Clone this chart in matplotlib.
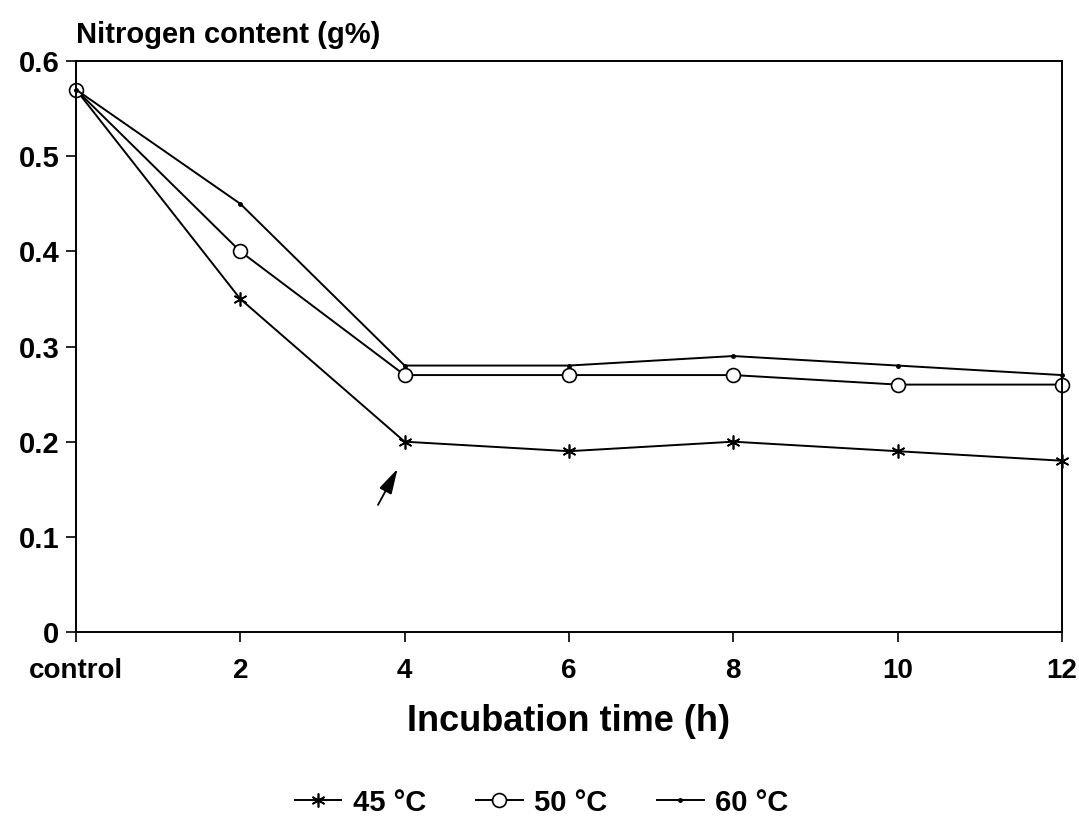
# Nitrogen content vs incubation time
import matplotlib.pyplot as plt

hours = [0, 2, 4, 6, 8, 10, 12]
tick_labels = ['control', '2', '4', '6', '8', '10', '12']

n_45 = [0.57, 0.35, 0.20, 0.19, 0.20, 0.19, 0.18]
n_50 = [0.57, 0.40, 0.27, 0.27, 0.27, 0.26, 0.26]
n_60 = [0.57, 0.45, 0.28, 0.28, 0.29, 0.28, 0.27]


def main():
    plt.rcParams['font.family'] = ['Liberation Sans', 'DejaVu Sans']
    plt.rcParams['font.weight'] = 'bold'
    fig = plt.figure(figsize=(10.79, 8.36), dpi=100)
    ax = fig.add_axes([0.0704, 0.244, 0.9138, 0.683])

    l1, = ax.plot(hours, n_45, color='black', lw=1.4, clip_on=False,
                  marker=(6, 2, 0), ms=10, mew=1.2, label='45 °C')
    l2, = ax.plot(hours, n_50, color='black', lw=1.4, clip_on=False,
                  marker='o', ms=10, mfc='white', mec='black', mew=1.2,
                  label='50 °C')
    l3, = ax.plot(hours, n_60, color='black', lw=1.4, clip_on=False,
                  marker='.', ms=5, label='60 °C')

    ax.set_xlim(0, 12)
    ax.set_ylim(0, 0.6)
    ax.set_xticks(hours)
    ax.set_xticklabels(tick_labels, fontsize=20, fontweight='bold')
    ax.set_yticks([0, 0.1, 0.2, 0.3, 0.4, 0.5, 0.6])
    ax.set_yticklabels(['0', '0.1', '0.2', '0.3', '0.4', '0.5', '0.6'],
                       fontsize=21, fontweight='bold')
    ax.tick_params(axis='x', direction='out', length=7, width=1.2, pad=12)
    ax.tick_params(axis='y', direction='out', length=7, width=1.2, pad=5)
    for s in ax.spines.values():
        s.set_linewidth(1.4)

    ax.text(0, 0.613, 'Nitrogen content (g%)', fontsize=21,
            fontweight='bold', ha='left', va='bottom')
    ax.set_xlabel('Incubation time (h)', fontsize=26, fontweight='bold',
                  labelpad=14)

    # arrow pointing to 4 h point
    ax.annotate('', xy=(3.93, 0.174), xytext=(3.66, 0.131),
                arrowprops=dict(arrowstyle='-|>,head_length=1.1,head_width=0.3',
                                color='black', lw=1.3, mutation_scale=14))

    fig.legend(handles=[l1, l2, l3], loc='center',
               bbox_to_anchor=(0.502, 0.04), ncol=3, frameon=False,
               prop={'size': 21, 'weight': 'bold'}, handlelength=1.6,
               columnspacing=1.7, handletextpad=0.4)

    fig.savefig('out.png', dpi=100)


if __name__ == '__main__':
    main()
